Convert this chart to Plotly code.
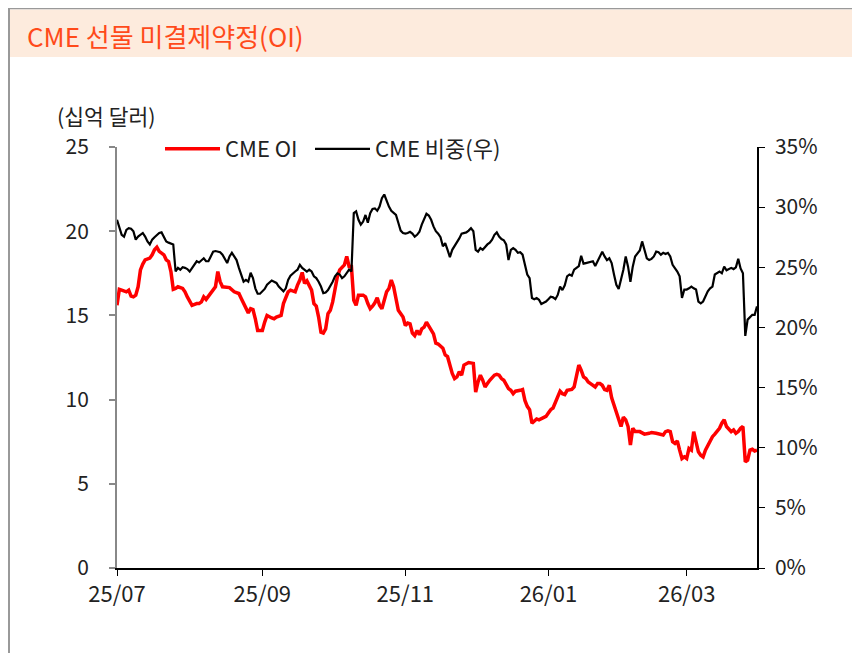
import plotly.graph_objects as go

oi_dates = [
"2025-07-01","2025-07-02","2025-07-03","2025-07-05","2025-07-06","2025-07-07","2025-07-08","2025-07-09","2025-07-10","2025-07-11",
"2025-07-12","2025-07-13","2025-07-15","2025-07-16","2025-07-17","2025-07-18","2025-07-19","2025-07-20","2025-07-21","2025-07-22",
"2025-07-23","2025-07-24","2025-07-25","2025-07-26","2025-07-27","2025-07-29","2025-07-30","2025-07-31","2025-08-01","2025-08-02",
"2025-08-04","2025-08-05","2025-08-06","2025-08-07","2025-08-08","2025-08-09","2025-08-10","2025-08-11","2025-08-12","2025-08-13",
"2025-08-14","2025-08-15","2025-08-18","2025-08-20","2025-08-22","2025-08-23","2025-08-25","2025-08-26","2025-08-27","2025-08-28",
"2025-08-29","2025-08-30","2025-08-31","2025-09-01","2025-09-02","2025-09-03","2025-09-05","2025-09-06","2025-09-07","2025-09-09",
"2025-09-10","2025-09-12","2025-09-13","2025-09-15","2025-09-16","2025-09-17","2025-09-18","2025-09-19","2025-09-20","2025-09-21",
"2025-09-22","2025-09-23","2025-09-24","2025-09-25","2025-09-26","2025-09-27","2025-09-28","2025-09-29","2025-09-30","2025-10-01",
"2025-10-02","2025-10-03","2025-10-04","2025-10-06","2025-10-07","2025-10-08","2025-10-09","2025-10-10","2025-10-11","2025-10-12",
"2025-10-14","2025-10-15","2025-10-16","2025-10-17","2025-10-18","2025-10-19","2025-10-20","2025-10-21","2025-10-22","2025-10-23",
"2025-10-24","2025-10-25","2025-10-26","2025-10-27","2025-10-28","2025-10-29","2025-10-31","2025-11-01","2025-11-02","2025-11-03",
"2025-11-04","2025-11-05","2025-11-06","2025-11-07","2025-11-08","2025-11-09","2025-11-10","2025-11-11","2025-11-12","2025-11-13",
"2025-11-14","2025-11-15","2025-11-17","2025-11-18","2025-11-19","2025-11-20","2025-11-21","2025-11-22","2025-11-23","2025-11-24",
"2025-11-25","2025-11-26","2025-11-27","2025-11-28","2025-11-30","2025-12-01","2025-12-02","2025-12-03","2025-12-04","2025-12-05",
"2025-12-06","2025-12-07","2025-12-09","2025-12-10","2025-12-11","2025-12-12","2025-12-13","2025-12-14","2025-12-15","2025-12-16",
"2025-12-17","2025-12-18","2025-12-19","2025-12-20","2025-12-21","2025-12-22","2025-12-23","2025-12-24","2025-12-25","2025-12-26",
"2025-12-27","2025-12-28","2025-12-30","2025-12-31","2026-01-01","2026-01-02","2026-01-03","2026-01-05","2026-01-06","2026-01-07",
"2026-01-08","2026-01-09","2026-01-10","2026-01-11","2026-01-12","2026-01-13","2026-01-14","2026-01-15","2026-01-16","2026-01-17",
"2026-01-18","2026-01-19","2026-01-21","2026-01-22","2026-01-23","2026-01-24","2026-01-25","2026-01-26","2026-01-27","2026-01-28",
"2026-01-30","2026-01-31","2026-02-01","2026-02-02","2026-02-03","2026-02-04","2026-02-05","2026-02-06","2026-02-07","2026-02-09",
"2026-02-10","2026-02-11","2026-02-13","2026-02-14","2026-02-16","2026-02-17","2026-02-19","2026-02-20","2026-02-21","2026-02-22",
"2026-02-23","2026-02-24","2026-02-25","2026-02-26","2026-02-27","2026-02-28","2026-03-01","2026-03-02","2026-03-03","2026-03-04",
"2026-03-05","2026-03-06","2026-03-07","2026-03-08","2026-03-09","2026-03-10","2026-03-11","2026-03-12","2026-03-13","2026-03-14",
"2026-03-15","2026-03-16","2026-03-17","2026-03-18","2026-03-19","2026-03-20","2026-03-21","2026-03-22","2026-03-23","2026-03-24",
"2026-03-25","2026-03-26","2026-03-27","2026-03-28","2026-03-29","2026-03-30","2026-03-31"]
oi_values = [
15.6,16.55,16.5,16.4,16.5,16.15,16.1,16.2,16.7,17.7,
18.05,18.3,18.4,18.6,18.9,19.05,18.8,18.7,18.6,18.3,
18.2,17.6,16.55,16.6,16.7,16.6,16.4,16.1,15.8,15.6,
15.7,15.7,15.8,16.1,15.95,16.15,16.35,16.5,16.7,17.6,
17.0,16.7,16.65,16.4,16.3,16.0,15.4,15.15,15.4,15.35,
14.8,14.1,14.1,14.1,14.6,15.0,14.85,14.8,14.9,15.0,
15.7,16.4,16.5,16.4,16.8,17.1,17.55,16.9,17.05,16.8,
16.5,15.7,15.55,14.9,14.0,13.95,14.2,15.1,15.3,15.8,
16.5,17.3,17.7,18.0,18.5,17.9,17.9,15.9,15.6,16.2,
16.2,16.1,15.7,15.4,15.55,15.75,16.05,15.6,15.4,16.0,
16.4,16.6,17.1,16.7,16.1,15.3,14.9,14.4,14.55,14.5,
13.95,13.8,14.1,13.85,14.2,14.3,14.6,14.35,14.1,13.9,
13.35,13.3,13.05,12.65,12.55,12.05,11.55,11.25,11.35,11.65,
11.45,12.05,12.15,12.2,12.15,10.45,11.05,11.45,11.15,10.75,
10.95,11.15,11.45,11.5,11.45,11.25,11.15,10.85,10.65,10.55,
10.35,10.5,10.5,10.55,10.6,9.95,9.6,9.4,8.6,8.7,
8.85,8.8,8.9,9.0,9.2,9.4,9.5,10.1,10.5,10.35,
10.3,10.55,10.6,10.6,10.75,11.35,12.05,11.75,11.35,11.25,
11.05,10.95,10.75,10.95,10.95,10.85,10.6,10.55,10.85,10.1,
9.3,8.8,8.4,8.95,8.8,8.4,7.3,8.3,8.1,8.1,
8.0,7.95,8.0,8.05,8.0,7.95,7.9,8.1,8.15,8.1,
7.5,7.4,7.55,7.0,6.5,6.6,6.5,7.1,7.0,8.1,
7.4,6.9,6.7,6.6,7.0,7.3,7.5,7.8,7.95,8.1,
8.3,8.6,8.8,8.4,8.25,8.1,8.2,8.0,8.1,8.3,
8.4,6.3,6.4,7.0,7.05,6.95,7.0]

share_dates = [
"2025-07-01","2025-07-02","2025-07-03","2025-07-04","2025-07-05","2025-07-06","2025-07-07","2025-07-08","2025-07-09","2025-07-10",
"2025-07-11","2025-07-12","2025-07-13","2025-07-14","2025-07-15","2025-07-16","2025-07-17","2025-07-18","2025-07-19","2025-07-20",
"2025-07-21","2025-07-22","2025-07-23","2025-07-24","2025-07-25","2025-07-26","2025-07-27","2025-07-28","2025-07-29","2025-07-30",
"2025-07-31","2025-08-01","2025-08-02","2025-08-03","2025-08-04","2025-08-05","2025-08-06","2025-08-07","2025-08-08","2025-08-09",
"2025-08-10","2025-08-11","2025-08-12","2025-08-14","2025-08-15","2025-08-16","2025-08-17","2025-08-18","2025-08-19","2025-08-20",
"2025-08-21","2025-08-22","2025-08-23","2025-08-24","2025-08-25","2025-08-26","2025-08-27","2025-08-28","2025-08-29","2025-08-30",
"2025-08-31","2025-09-01","2025-09-02","2025-09-03","2025-09-05","2025-09-06","2025-09-07","2025-09-08","2025-09-09","2025-09-10",
"2025-09-11","2025-09-12","2025-09-13","2025-09-14","2025-09-15","2025-09-16","2025-09-17","2025-09-18","2025-09-20","2025-09-21",
"2025-09-22","2025-09-23","2025-09-24","2025-09-25","2025-09-26","2025-09-27","2025-09-28","2025-09-29","2025-09-30","2025-10-01",
"2025-10-02","2025-10-03","2025-10-04","2025-10-05","2025-10-06","2025-10-07","2025-10-08","2025-10-09","2025-10-10","2025-10-11",
"2025-10-12","2025-10-13","2025-10-14","2025-10-15","2025-10-16","2025-10-17","2025-10-18","2025-10-19","2025-10-20","2025-10-21",
"2025-10-22","2025-10-23","2025-10-24","2025-10-25","2025-10-26","2025-10-27","2025-10-28","2025-10-29","2025-10-30","2025-10-31",
"2025-11-01","2025-11-02","2025-11-03","2025-11-04","2025-11-05","2025-11-06","2025-11-07","2025-11-08","2025-11-09","2025-11-10",
"2025-11-11","2025-11-12","2025-11-13","2025-11-14","2025-11-15","2025-11-16","2025-11-17","2025-11-18","2025-11-19","2025-11-20",
"2025-11-21","2025-11-22","2025-11-23","2025-11-24","2025-11-25","2025-11-26","2025-11-27","2025-11-28","2025-11-29","2025-11-30",
"2025-12-01","2025-12-02","2025-12-03","2025-12-04","2025-12-05","2025-12-06","2025-12-07","2025-12-08","2025-12-09","2025-12-10",
"2025-12-11","2025-12-12","2025-12-13","2025-12-14","2025-12-15","2025-12-16","2025-12-17","2025-12-18","2025-12-19","2025-12-20",
"2025-12-21","2025-12-22","2025-12-23","2025-12-24","2025-12-25","2025-12-26","2025-12-27","2025-12-28","2025-12-29","2025-12-30",
"2025-12-31","2026-01-01","2026-01-02","2026-01-03","2026-01-04","2026-01-05","2026-01-06","2026-01-07","2026-01-08","2026-01-09",
"2026-01-10","2026-01-11","2026-01-12","2026-01-13","2026-01-14","2026-01-15","2026-01-16","2026-01-17","2026-01-18","2026-01-20",
"2026-01-21","2026-01-22","2026-01-23","2026-01-24","2026-01-25","2026-01-26","2026-01-27","2026-01-28","2026-01-29","2026-01-30",
"2026-01-31","2026-02-01","2026-02-02","2026-02-03","2026-02-04","2026-02-05","2026-02-06","2026-02-07","2026-02-08","2026-02-09",
"2026-02-10","2026-02-11","2026-02-12","2026-02-13","2026-02-14","2026-02-15","2026-02-16","2026-02-17","2026-02-18","2026-02-19",
"2026-02-20","2026-02-21","2026-02-22","2026-02-23","2026-02-24","2026-02-25","2026-02-26","2026-02-27","2026-02-28","2026-03-01",
"2026-03-02","2026-03-03","2026-03-04","2026-03-05","2026-03-06","2026-03-07","2026-03-08","2026-03-09","2026-03-10","2026-03-11",
"2026-03-12","2026-03-13","2026-03-14","2026-03-15","2026-03-16","2026-03-17","2026-03-18","2026-03-19","2026-03-20","2026-03-21",
"2026-03-22","2026-03-23","2026-03-24","2026-03-25","2026-03-26","2026-03-27","2026-03-28","2026-03-29","2026-03-30","2026-03-31"]
share_values = [
28.95,28.4,27.7,27.55,28.1,28.25,28.2,28.0,27.3,27.55,
27.7,27.85,27.55,27.15,26.9,27.3,27.5,27.7,27.85,27.9,
27.45,27.15,27.05,27.0,26.9,24.65,24.95,24.8,25.0,24.95,
24.85,24.65,24.95,25.2,25.5,25.4,25.6,25.75,25.5,25.5,
25.9,26.3,26.35,26.25,26.05,25.75,25.35,25.9,26.2,25.9,
25.6,24.95,24.4,23.8,23.95,23.8,24.55,24.1,23.25,22.8,
22.8,23.0,23.2,23.55,23.9,23.8,23.7,23.4,23.2,23.0,
23.25,23.95,24.3,24.5,24.65,24.8,25.2,24.95,24.65,24.8,
24.65,24.25,24.1,23.8,23.4,22.85,22.9,23.1,23.4,23.8,
24.25,24.5,24.4,24.1,24.25,24.5,24.8,24.65,29.5,29.65,
28.95,28.55,28.8,29.35,28.7,29.5,29.85,29.9,29.7,30.05,
30.75,31.05,30.5,30.05,29.7,29.5,29.35,28.7,28.05,27.85,
27.8,27.85,27.95,27.8,27.55,27.7,27.95,28.55,29.0,29.45,
29.3,28.95,28.4,28.0,27.8,27.5,26.75,27.0,26.45,25.85,
26.45,26.75,27.0,27.4,27.8,27.85,27.9,28.05,28.25,28.0,
26.45,26.3,26.6,26.45,26.7,26.9,27.05,27.3,27.7,27.9,
27.55,27.35,27.25,26.9,25.6,26.45,26.6,26.45,26.2,26.25,
26.05,25.2,24.4,24.1,22.45,22.35,22.45,22.3,21.95,22.05,
22.15,22.35,22.55,22.5,22.35,22.7,23.4,23.1,23.5,24.25,
24.4,24.3,24.8,24.95,25.1,25.95,25.3,25.35,25.4,25.5,
25.1,25.5,25.9,26.3,25.9,25.6,25.75,25.35,24.4,23.55,
23.2,23.95,24.8,25.9,25.05,23.8,25.05,25.9,26.2,26.4,
27.15,26.45,25.75,25.6,25.7,25.9,26.3,26.25,26.05,26.2,
26.1,26.2,25.9,25.2,24.95,24.65,24.25,22.45,23.15,23.15,
23.25,23.4,23.25,23.15,22.15,22.0,22.15,22.55,23.0,23.25,
23.4,24.4,24.55,24.65,24.5,25.05,24.75,24.85,24.95,24.85,
25.0,25.7,24.9,24.5,19.3,20.65,20.9,21.05,21.05,21.75]

x_tick_vals = ["2025-07-01", "2025-09-01", "2025-11-01", "2026-01-01", "2026-03-01"]
x_tick_text = ["25/07", "25/09", "25/11", "26/01", "26/03"]
left_ticks = [0, 5, 10, 15, 20, 25]
right_ticks = [0, 5, 10, 15, 20, 25, 30, 35]
right_tick_text = [f"{v}%" for v in right_ticks]

title_text = "CME 선물 미결제약정(OI)"
unit_text = "(십억 달러)"

FONT = "Noto Sans CJK KR"

fig = go.Figure()
fig.add_trace(go.Scatter(x=oi_dates, y=oi_values, name="CME OI", mode="lines",
                         line=dict(color="#FF0000", width=3.5), yaxis="y",
                         legend="legend"))
fig.add_trace(go.Scatter(x=share_dates, y=share_values, name="CME 비중(우)", mode="lines",
                         line=dict(color="#000000", width=2.2), yaxis="y2",
                         legend="legend2"))

# page coordinates of the plot area (browser body adds an 8px offset)
OFF = 8
L, R, T, B = 117, 757, 147, 568
W, H = 860, 653

def px(x):
    return (x - L) / (R - L)

def py(y):
    return (B - y) / (B - T)

legend_common = dict(orientation="h", xanchor="left", yanchor="top",
                     bgcolor="rgba(0,0,0,0)", font=dict(size=22, color="#222222"),
                     itemwidth=55)

fig.update_layout(
    width=W, height=H,
    margin=dict(l=L - OFF, r=W - (R - OFF), t=T - OFF, b=H - (B - OFF), pad=0),
    paper_bgcolor="white", plot_bgcolor="white",
    font=dict(family=FONT, size=21, color="#222222"),
    showlegend=True,
    legend=dict(x=px(160), y=py(128), **legend_common),
    legend2=dict(x=px(310), y=py(128), **legend_common),
    xaxis=dict(type="date", range=["2025-07-01", "2026-03-31"],
               tickvals=x_tick_vals, ticktext=x_tick_text,
               showline=True, linecolor="#000000", linewidth=1.5,
               ticks="outside", ticklen=6, tickcolor="#000000", tickwidth=1,
               showgrid=False, zeroline=False, tickfont=dict(size=22)),
    yaxis=dict(range=[0, 25], tickvals=left_ticks,
               showline=True, linecolor="#888888", linewidth=2,
               ticks="outside", ticklen=6, tickcolor="#888888", tickwidth=1.5,
               showgrid=False, zeroline=False, tickfont=dict(size=21),
               ticklabelstandoff=16),
    yaxis2=dict(range=[0, 35], tickvals=right_ticks, ticktext=right_tick_text,
                overlaying="y", side="right",
                showline=True, linecolor="#000000", linewidth=1.5,
                ticks="outside", ticklen=6, tickcolor="#000000", tickwidth=1,
                showgrid=False, zeroline=False, tickfont=dict(size=21),
                ticklabelstandoff=6),
)

# header band and frame
fig.add_shape(type="rect", xref="paper", yref="paper",
              x0=px(9), x1=px(880), y0=py(57), y1=py(9.5),
              fillcolor="#FDEBDD", line=dict(width=0), layer="below")
fig.add_shape(type="line", xref="paper", yref="paper",
              x0=px(9), x1=px(9), y0=py(680), y1=py(8),
              line=dict(color="#999999", width=2))
fig.add_shape(type="line", xref="paper", yref="paper",
              x0=px(8), x1=px(880), y0=py(8.6), y1=py(8.6),
              line=dict(color="#999999", width=1.5))

fig.add_annotation(text=title_text, xref="paper", yref="paper",
                   x=px(25), y=py(35), xanchor="left", yanchor="middle",
                   showarrow=False, font=dict(family=FONT, size=26, color="#FF4A1A"))
fig.add_annotation(text=unit_text, xref="paper", yref="paper",
                   x=px(55), y=py(116), xanchor="left", yanchor="middle",
                   showarrow=False, font=dict(family=FONT, size=21.5, color="#222222"))

fig.write_html("out.html")
